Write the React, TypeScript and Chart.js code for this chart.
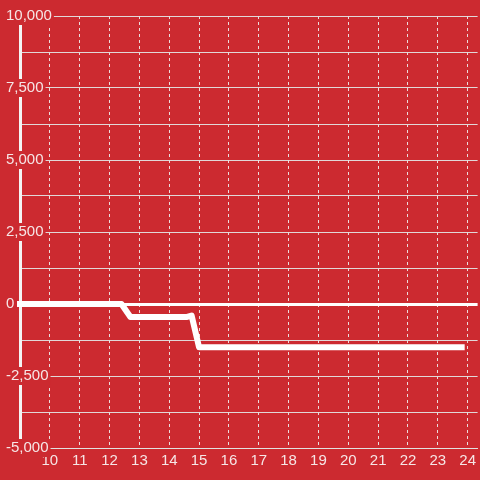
import { useEffect, useRef } from 'react';
import { Chart, registerables } from 'chart.js';

Chart.register(...registerables);

// x positions (hours) and values of the line
const hours = [8.8, 12.4, 12.7, 14.6, 14.75, 15.0, 23.9];
const values = [0, 0, -450, -450, -400, -1500, -1500];

// axis ticks
const xTickValues = [10, 11, 12, 13, 14, 15, 16, 17, 18, 19, 20, 21, 22, 23, 24];
const yLabelValues = [10000, 7500, 5000, 2500, 0, -2500, -5000];

const BG = '#cc2a30';
const TEXT = '#f6e6e6';
const FONT = { family: "'Liberation Sans', Arial, sans-serif", size: 15 };

export default function App() {
  const ref = useRef<HTMLCanvasElement | null>(null);

  useEffect(() => {
    if (!ref.current) return;
    const chart = new Chart(ref.current, {
      type: 'line',
      data: {
        datasets: [
          {
            data: hours.map((h, i) => ({ x: h, y: values[i] })),
            borderColor: '#ffffff',
            borderWidth: 6,
            borderJoinStyle: 'round',
            pointRadius: 0,
            fill: false,
            tension: 0,
            clip: 3,
          },
        ],
      },
      options: {
        responsive: false,
        animation: false,
        devicePixelRatio: 1,
        layout: { padding: { left: 6, top: 16, right: 0, bottom: 0 } },
        plugins: { legend: { display: false }, tooltip: { enabled: false } },
        scales: {
          x: {
            type: 'linear',
            min: 9,
            max: 24.3333,
            afterBuildTicks: (scale: any) => {
              scale.ticks = xTickValues.map((v) => ({ value: v }));
            },
            afterFit: (scale: any) => {
              scale.height = 32;
            },
            grid: {
              color: 'rgba(240,240,240,0.9)',
              lineWidth: 1,
              drawTicks: false,
            },
            border: { display: true, color: 'rgba(225,225,225,0.95)', width: 1, dash: [3, 3] },
            ticks: {
              color: TEXT,
              font: FONT,
              padding: 4,
              autoSkip: false,
              maxRotation: 0,
              callback: (v: any) => String(v),
            },
          },
          y: {
            type: 'linear',
            min: -5000,
            max: 10000,
            afterFit: (scale: any) => {
              scale.width = 14;
            },
            grid: {
              color: (ctx: any) => (ctx.tick && ctx.tick.value === 0 ? '#ffffff' : 'rgba(225,225,225,0.95)'),
              lineWidth: (ctx: any) => (ctx.tick && ctx.tick.value === 0 ? 3 : 1),
              drawTicks: false,
            },
            border: { display: true, color: '#f4f4f4', width: 3 },
            ticks: {
              stepSize: 1250,
              autoSkip: false,
              color: TEXT,
              font: FONT,
              mirror: true,
              crossAlign: 'near',
              padding: -14,
              showLabelBackdrop: true,
              backdropColor: BG,
              backdropPadding: { top: 0, bottom: 0, left: 2, right: 2 },
              callback: (v: any) =>
                yLabelValues.includes(Number(v)) ? Number(v).toLocaleString('en-US') : '',
            },
          },
        },
      } as any,
    });
    return () => chart.destroy();
  }, []);

  return (
    <div style={{ position: 'fixed', left: 0, top: 0, width: 480, height: 480, background: BG }}>
      <canvas ref={ref} width={480} height={480} style={{ display: 'block' }} />
    </div>
  );
}
